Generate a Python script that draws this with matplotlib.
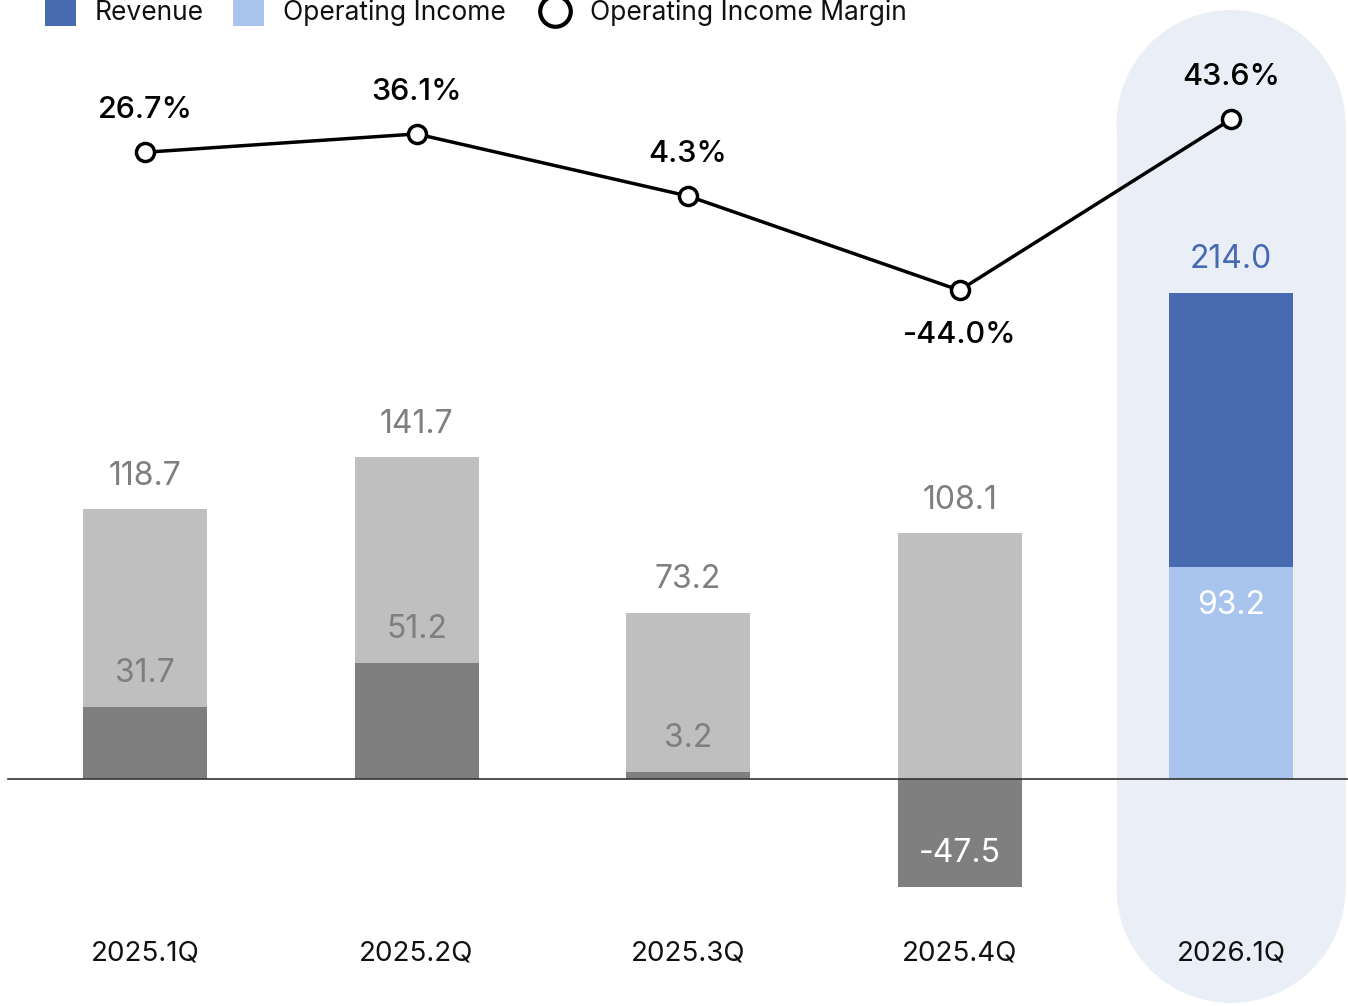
import numpy as np
import matplotlib.pyplot as plt
from matplotlib.patches import Rectangle, Ellipse
from matplotlib.lines import Line2D

plt.rcParams['font.family'] = ['Inter', 'DejaVu Sans']

quarters = ["2025.1Q", "2025.2Q", "2025.3Q", "2025.4Q", "2026.1Q"]
revenue = [118.7, 141.7, 73.2, 108.1, 214.0]
op_income = [31.7, 51.2, 3.2, -47.5, 93.2]
op_margin = [26.7, 36.1, 4.3, -44.0, 43.6]

# colores
gris_claro = "#BFBFBF"
gris_oscuro = "#7F7F7F"
azul = "#476AB1"
azul_claro = "#A9C4ED"
fondo = "#EAEFF7"

W, H = 1348, 1006
fig = plt.figure(figsize=(W / 100, H / 100), dpi=100)
ax = fig.add_axes([0, 0, 1, 1])

x = np.arange(len(quarters))
paso = 271.5          # px entre categorias
x0 = 145              # px de la primera
ax.set_xlim(-x0 / paso, (W - x0) / paso)
esc = 2.272           # px por unidad
cero = 779
ax.set_ylim(-(H - cero) / esc, cero / esc)
ax.axis("off")

# fondo resaltado del ultimo trimestre (pastilla: rectangulo + dos elipses)
ult = len(quarters) - 1
ancho_px = 229
px_c = x0 + ult * paso
r = ancho_px / 2
top, bot = 10, 1003
for p in [Rectangle(((px_c - r) / W, (H - bot + r) / H), ancho_px / W, (bot - top - 2 * r) / H),
          Ellipse((px_c / W, (H - top - r) / H), ancho_px / W, 2 * r / H),
          Ellipse((px_c / W, (H - bot + r) / H), ancho_px / W, 2 * r / H)]:
    p.set_transform(fig.transFigure)
    p.set_facecolor(fondo)
    p.set_edgecolor("none")
    p.set_zorder(0)
    ax.add_patch(p)

ancho = 124 / paso
col_rev = [gris_claro] * ult + [azul]
col_oi = [gris_oscuro] * ult + [azul_claro]
ax.bar(x, revenue, width=ancho, color=col_rev, zorder=2)
ax.bar(x, op_income, width=ancho, color=col_oi, zorder=3)
ax.axhline(0, xmin=8 / W, xmax=1, color="#333333", lw=1.2, zorder=4)

off = 33 / esc
fs = 23
for i in x:
    c = azul if i == ult else gris_oscuro
    ax.text(i, revenue[i] + off, f"{revenue[i]:.1f}", ha="center", va="center",
            fontsize=fs, color=c, zorder=5)
    v = op_income[i]
    if i == ult:
        ax.text(i, v - 38 / esc, f"{v:.1f}", ha="center", va="center", fontsize=fs,
                color="white", zorder=5)
    elif v < 0:
        ax.text(i, v + off, f"{v:.1f}", ha="center", va="center", fontsize=fs,
                color="white", zorder=5)
    else:
        ax.text(i, v + off, f"{v:.1f}", ha="center", va="center", fontsize=fs,
                color=gris_oscuro, zorder=5)
    ax.text(i, -(953 - cero) / esc, quarters[i], ha="center", va="center",
            fontsize=20, color="#111111", zorder=5)

# margen en eje gemelo
ax2 = ax.twinx()
ax2.set_position([0, 0, 1, 1])
esc2 = 1.952
cero2 = 204.4
ax2.set_ylim(-(H - cero2) / esc2, cero2 / esc2)
ax2.axis("off")
ax2.plot(x, op_margin, color="black", lw=2.5, marker="o", ms=13,
         mfc="white", mec="black", mew=2.5, zorder=6)
for i in x:
    m = op_margin[i]
    dy = -45 / esc2 if m < 0 else 42 / esc2
    ax2.text(i, m + dy, f"{m:.1f}%", ha="center", va="center", fontsize=22,
             color="black", fontweight="medium", zorder=7)

# leyenda manual arriba
yl = 1 - 13 / H
fig.patches.append(Rectangle((45 / W, 1 - 26 / H), 31 / W, 30 / H, transform=fig.transFigure,
                             facecolor=azul, edgecolor="none"))
fig.text(95 / W, yl, "Revenue", fontsize=19, va="center", ha="left", color="#111111")
fig.patches.append(Rectangle((233 / W, 1 - 26 / H), 31 / W, 30 / H, transform=fig.transFigure,
                             facecolor=azul_claro, edgecolor="none"))
fig.text(283 / W, yl, "Operating Income", fontsize=19, va="center", ha="left", color="#111111")
fig.lines.append(Line2D([555 / W], [1 - 11 / H], transform=fig.transFigure, marker="o", ms=22,
                        mfc="white", mec="black", mew=3))
fig.text(590 / W, yl, "Operating Income Margin", fontsize=19, va="center", ha="left",
         color="#111111")

fig.savefig("out.png", dpi=100, facecolor="white")
